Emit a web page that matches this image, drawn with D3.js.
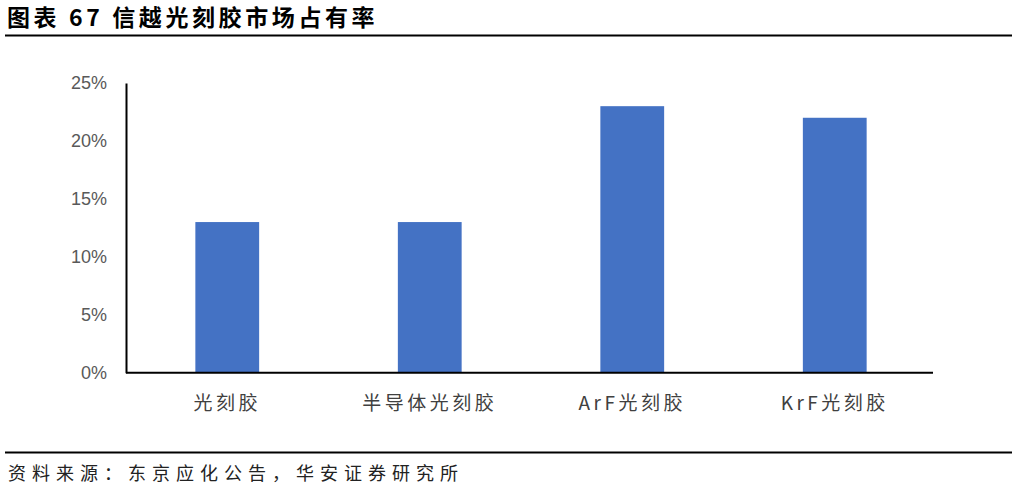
<!DOCTYPE html>
<html>
<head>
<meta charset="utf-8">
<script src="https://cdn.jsdelivr.net/npm/d3@7"></script>
<style>
  body { margin: 0; background: #fff; }
  svg { display: block; }
</style>
</head>
<body>
<div id="chart"></div>
<script>
// data
const categories = ['光刻胶', '半导体光刻胶', 'ArF光刻胶', 'KrF光刻胶'];
const shares = [0.13, 0.13, 0.23, 0.22];
const yTicks = [0, 0.05, 0.10, 0.15, 0.20, 0.25];
const titleText = '图表 67 信越光刻胶市场占有率';
const sourceText = '资料来源：东京应化公告，华安证券研究所';

const width = 1017, height = 491;
const margin = {left: 126, right: 84, top: 83, bottom: 118};

const svg = d3.select('#chart').append('svg')
    .attr('width', width)
    .attr('height', height);

// title + rules
svg.append('text')
    .attr('x', 7)
    .attr('y', 26)
    .style('font-family', '"Noto Sans CJK SC", sans-serif')
    .style('font-weight', 'bold')
    .style('font-size', '23px')
    .style('letter-spacing', '3.6px')
    .style('fill', '#000')
    .text(titleText);

svg.append('line')
    .attr('x1', 5).attr('x2', 1012)
    .attr('y1', 35.5).attr('y2', 35.5)
    .attr('stroke', '#000').attr('stroke-width', 2.2);

svg.append('line')
    .attr('x1', 5).attr('x2', 1012)
    .attr('y1', 452.5).attr('y2', 452.5)
    .attr('stroke', '#000').attr('stroke-width', 2.2);

svg.append('text')
    .attr('x', 8)
    .attr('y', 480)
    .style('font-family', '"Noto Sans CJK SC", sans-serif')
    .style('font-size', '18px')
    .style('letter-spacing', '6px')
    .style('fill', '#222')
    .text(sourceText);

// scales
const x_scale = d3.scaleBand()
    .domain(categories)
    .range([margin.left, width - margin.right + 3])
    .paddingInner(0.685)
    .paddingOuter(0.3425);

const y_scale = d3.scaleLinear()
    .domain([0, 0.25])
    .range([height - margin.bottom - 0.3, margin.top]);

// bars
svg.append('g')
    .attr('class', 'plot-chart')
    .selectAll('rect')
    .data(categories)
    .join('rect')
    .attr('x', d => x_scale(d))
    .attr('width', x_scale.bandwidth())
    .attr('y', (d, i) => y_scale(shares[i]))
    .attr('height', (d, i) => y_scale(0) - y_scale(shares[i]))
    .attr('fill', '#4472C4');

// left axis
const laxis = svg.append('g')
    .attr('class', 'left-axis')
    .attr('transform', `translate(${margin.left},0)`)
    .call(d3.axisLeft(y_scale).tickValues(yTicks).tickSize(0).tickPadding(19)
        .tickFormat(d3.format('.0%')));
laxis.select('.domain').attr('stroke', '#000').attr('stroke-width', 2);
laxis.selectAll('.tick text')
    .style('font-family', '"Liberation Sans", Arial, sans-serif')
    .style('font-size', '18px')
    .style('fill', '#595959');

// bottom axis
const baxis = svg.append('g')
    .attr('class', 'bottom-axis')
    .attr('transform', `translate(0,${y_scale(0)})`)
    .call(d3.axisBottom(x_scale).tickSize(0).tickPadding(24));
baxis.select('.domain')
    .attr('d', `M${margin.left},0H${x_scale.range()[1] - 3}`)
    .attr('stroke', '#000').attr('stroke-width', 2);
baxis.selectAll('.tick text')
    .style('font-family', '"Noto Sans CJK SC", sans-serif')
    .style('font-size', '19px')
    .style('letter-spacing', '3.5px')
    .style('fill', '#404040');
</script>
</body>
</html>
